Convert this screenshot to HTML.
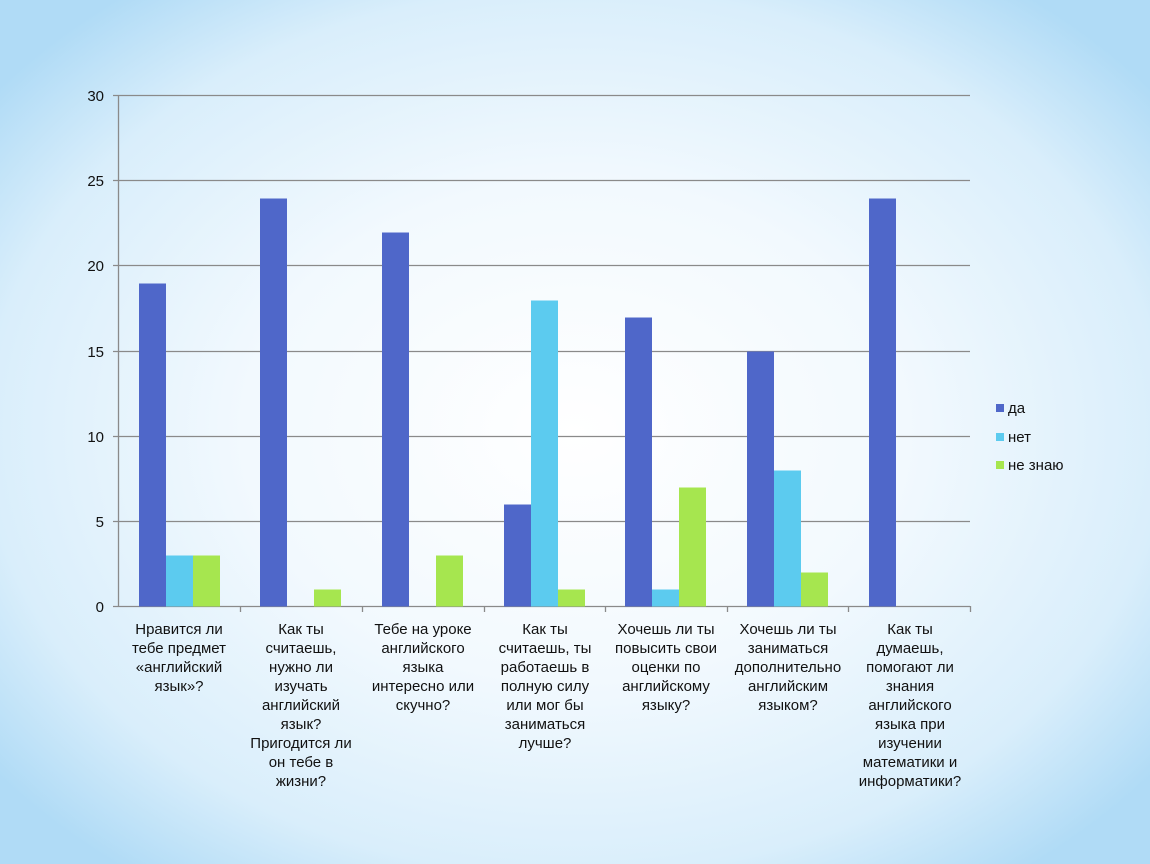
<!DOCTYPE html>
<html><head><meta charset="utf-8"><style>
html,body{margin:0;padding:0;width:1150px;height:864px;overflow:hidden}
body{background:radial-gradient(ellipse 64% 64% at 50% 50%,#ffffff 0%,#f2f9fe 45%,#d9eefb 80%,#b0dbf6 100%)}
text{font-family:"Liberation Sans","DejaVu Sans",sans-serif;fill:#111}
</style></head><body>
<svg width="1150" height="864" xmlns="http://www.w3.org/2000/svg">
<g stroke="#8a8a8a" stroke-width="1.3">
<line x1="113" y1="95.5" x2="970" y2="95.5"/>
<line x1="113" y1="180.5" x2="970" y2="180.5"/>
<line x1="113" y1="265.5" x2="970" y2="265.5"/>
<line x1="113" y1="351.5" x2="970" y2="351.5"/>
<line x1="113" y1="436.5" x2="970" y2="436.5"/>
<line x1="113" y1="521.5" x2="970" y2="521.5"/>
<line x1="113" y1="606.5" x2="970" y2="606.5"/>
<line x1="118.5" y1="95" x2="118.5" y2="606"/>
<line x1="240.5" y1="606" x2="240.5" y2="612"/>
<line x1="362.5" y1="606" x2="362.5" y2="612"/>
<line x1="484.5" y1="606" x2="484.5" y2="612"/>
<line x1="605.5" y1="606" x2="605.5" y2="612"/>
<line x1="727.5" y1="606" x2="727.5" y2="612"/>
<line x1="848.5" y1="606" x2="848.5" y2="612"/>
<line x1="970.5" y1="606" x2="970.5" y2="612"/>
</g>
<g font-size="15" text-anchor="end">
<text x="104" y="101">30</text><text x="104" y="186">25</text><text x="104" y="271">20</text>
<text x="104" y="357">15</text><text x="104" y="442">10</text><text x="104" y="527">5</text><text x="104" y="612">0</text>
</g>
<g>
<rect x="139" y="283.5" width="27" height="323" fill="#4f67c9"/>
<rect x="166" y="555.5" width="27" height="51" fill="#5ccbef"/>
<rect x="193" y="555.5" width="27" height="51" fill="#a6e64f"/>
<rect x="260" y="198.5" width="27" height="408" fill="#4f67c9"/>
<rect x="314" y="589.5" width="27" height="17" fill="#a6e64f"/>
<rect x="382" y="232.5" width="27" height="374" fill="#4f67c9"/>
<rect x="436" y="555.5" width="27" height="51" fill="#a6e64f"/>
<rect x="504" y="504.5" width="27" height="102" fill="#4f67c9"/>
<rect x="531" y="300.5" width="27" height="306" fill="#5ccbef"/>
<rect x="558" y="589.5" width="27" height="17" fill="#a6e64f"/>
<rect x="625" y="317.5" width="27" height="289" fill="#4f67c9"/>
<rect x="652" y="589.5" width="27" height="17" fill="#5ccbef"/>
<rect x="679" y="487.5" width="27" height="119" fill="#a6e64f"/>
<rect x="747" y="351.5" width="27" height="255" fill="#4f67c9"/>
<rect x="774" y="470.5" width="27" height="136" fill="#5ccbef"/>
<rect x="801" y="572.5" width="27" height="34" fill="#a6e64f"/>
<rect x="869" y="198.5" width="27" height="408" fill="#4f67c9"/>
</g>
<g font-size="15" text-anchor="middle">
<text x="179" y="634">Нравится ли</text><text x="179" y="653">тебе предмет</text><text x="179" y="672">«английский</text><text x="179" y="691">язык»?</text>
<text x="301" y="634">Как ты</text><text x="301" y="653">считаешь,</text><text x="301" y="672">нужно ли</text><text x="301" y="691">изучать</text><text x="301" y="710">английский</text><text x="301" y="729">язык?</text><text x="301" y="748">Пригодится ли</text><text x="301" y="767">он  тебе в</text><text x="301" y="786">жизни?</text>
<text x="423" y="634">Тебе на уроке</text><text x="423" y="653">английского</text><text x="423" y="672">языка</text><text x="423" y="691">интересно или</text><text x="423" y="710">скучно?</text>
<text x="545" y="634">Как ты</text><text x="545" y="653">считаешь, ты</text><text x="545" y="672">работаешь в</text><text x="545" y="691">полную силу</text><text x="545" y="710">или мог бы</text><text x="545" y="729">заниматься</text><text x="545" y="748">лучше?</text>
<text x="666" y="634">Хочешь ли ты</text><text x="666" y="653">повысить свои</text><text x="666" y="672">оценки по</text><text x="666" y="691">английскому</text><text x="666" y="710">языку?</text>
<text x="788" y="634">Хочешь ли ты</text><text x="788" y="653">заниматься</text><text x="788" y="672">дополнительно</text><text x="788" y="691">английским</text><text x="788" y="710">языком?</text>
<text x="910" y="634">Как ты</text><text x="910" y="653">думаешь,</text><text x="910" y="672">помогают ли</text><text x="910" y="691">знания</text><text x="910" y="710">английского</text><text x="910" y="729">языка при</text><text x="910" y="748">изучении</text><text x="910" y="767">математики  и</text><text x="910" y="786">информатики?</text>
</g>
<g font-size="15">
<rect x="996" y="404" width="8" height="8" fill="#4f67c9"/><text x="1008" y="413">да</text>
<rect x="996" y="433" width="8" height="8" fill="#5ccbef"/><text x="1008" y="442">нет</text>
<rect x="996" y="461" width="8" height="8" fill="#a6e64f"/><text x="1008" y="470">не  знаю</text>
</g>
</svg>
</body></html>
